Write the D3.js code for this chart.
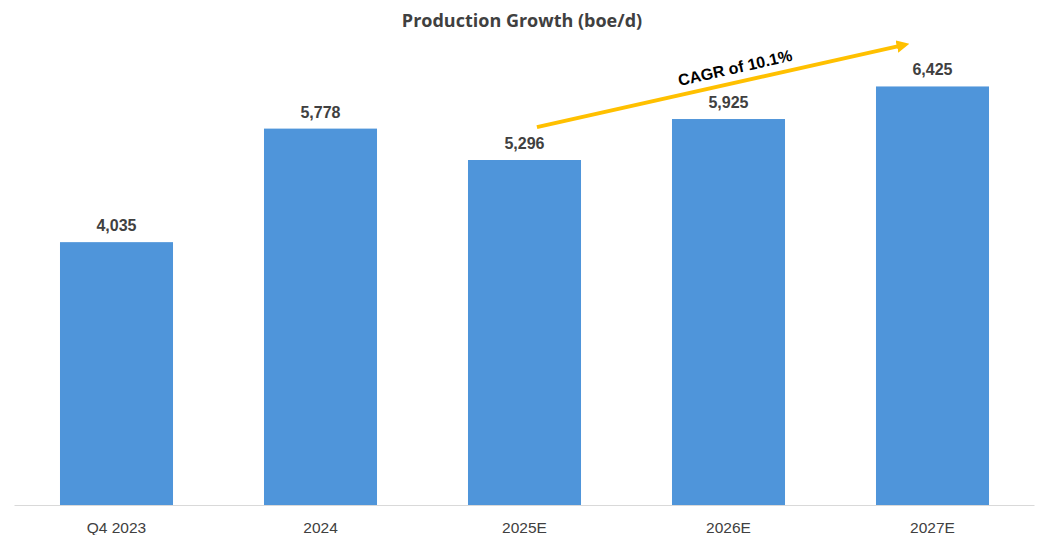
<!DOCTYPE html>
<html>
<head>
<meta charset="utf-8">
<script src="https://cdn.jsdelivr.net/npm/d3@7"></script>
<style>
  html, body { margin: 0; padding: 0; background: #fff; }
  svg { display: block; }
</style>
</head>
<body>
<svg id="chart" width="1043" height="535"></svg>
<script>
// Production by period, boe/d
const categories = ["Q4 2023", "2024", "2025E", "2026E", "2027E"];
const production = [4035, 5778, 5296, 5925, 6425];
const cagrLabel = "CAGR of 10.1%";
const titleText = "Production Growth (boe/d)";

const svg = d3.select("#chart");
const left = 14.5, right = 1034.5, baseY = 505, topY = 49;

const x = d3.scaleBand()
  .domain(categories)
  .range([left, right])
  .paddingInner(0.446)
  .paddingOuter(0.223);

const y = d3.scaleLinear()
  .domain([0, 7000])
  .range([baseY, topY]);

// title
svg.append("text")
  .attr("x", 522)
  .attr("y", 27)
  .attr("text-anchor", "middle")
  .attr("font-family", "'Open Sans', Roboto, sans-serif")
  .attr("font-weight", "bold")
  .attr("font-size", 18)
  .attr("fill", "#404040")
  .text(titleText);

// bars
svg.append("g")
  .selectAll("rect")
  .data(production)
  .join("rect")
  .attr("x", (d, i) => x(categories[i]))
  .attr("y", d => y(d))
  .attr("width", x.bandwidth())
  .attr("height", d => baseY - y(d))
  .attr("fill", "#4F95DA");

// value labels
svg.append("g")
  .selectAll("text")
  .data(production)
  .join("text")
  .attr("x", (d, i) => x(categories[i]) + x.bandwidth() / 2)
  .attr("y", d => y(d) - 11)
  .attr("text-anchor", "middle")
  .attr("font-family", "'Liberation Sans', Arial, sans-serif")
  .attr("font-weight", "bold")
  .attr("font-size", 16)
  .attr("fill", "#404040")
  .text(d => d3.format(",")(d));

// x axis
const xAxis = svg.append("g")
  .attr("transform", `translate(0,${baseY})`)
  .call(d3.axisBottom(x).tickSize(0).tickPadding(17));
xAxis.select(".domain")
  .attr("stroke", "#d9d9d9")
  .attr("stroke-width", 1)
  .attr("d", `M${left},0.5H${right}`);
xAxis.selectAll("text")
  .attr("font-family", "'Liberation Sans', Arial, sans-serif")
  .attr("font-size", 15.5)
  .attr("fill", "#404040");

// growth arrow
const defs = svg.append("defs");
defs.append("marker")
  .attr("id", "arrowHead")
  .attr("viewBox", "0 0 10 10")
  .attr("refX", 5)
  .attr("refY", 5)
  .attr("markerWidth", 3.2)
  .attr("markerHeight", 3.2)
  .attr("orient", "auto")
  .append("path")
  .attr("d", "M0,0L10,5L0,10Z")
  .attr("fill", "#FFC000");

const x0 = x("2025E") + x.bandwidth() * 0.61;
const y0 = y(5800);
const x1 = x("2027E") + x.bandwidth() * 0.24;
const y1 = y(7060);

svg.append("line")
  .attr("x1", x0).attr("y1", y0)
  .attr("x2", x1).attr("y2", y1)
  .attr("stroke", "#FFC000")
  .attr("stroke-width", 4)
  .attr("marker-end", "url(#arrowHead)");

const angle = Math.atan2(y1 - y0, x1 - x0) * 180 / Math.PI;
const mx = x0 + (x1 - x0) * 0.55, my = y0 + (y1 - y0) * 0.55;
svg.append("text")
  .attr("transform", `translate(${mx},${my}) rotate(${angle}) translate(0,-9)`)
  .attr("text-anchor", "middle")
  .attr("font-family", "'Liberation Sans', Arial, sans-serif")
  .attr("font-weight", "bold")
  .attr("font-size", 16)
  .attr("fill", "#000")
  .text(cagrLabel);
</script>
</body>
</html>
